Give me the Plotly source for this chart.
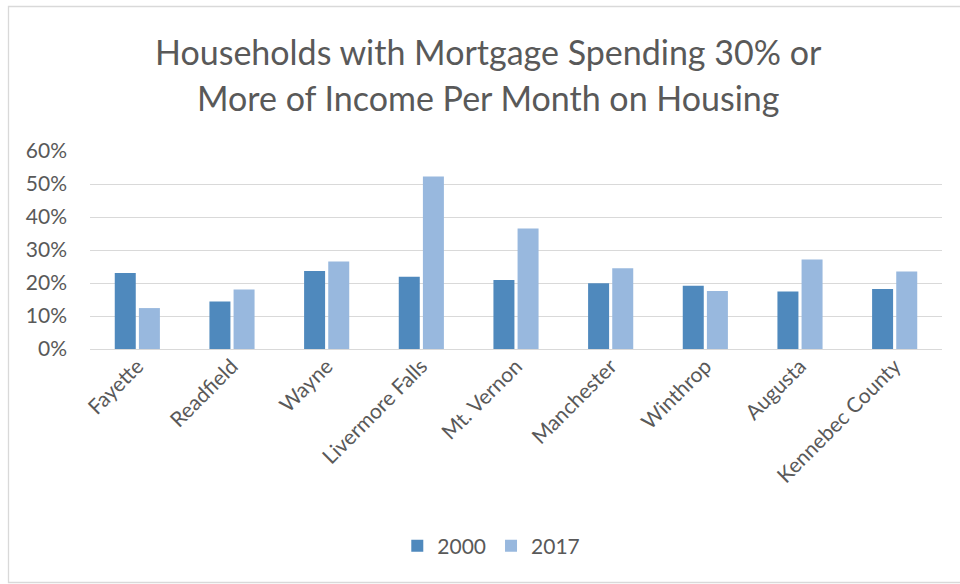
import plotly.graph_objects as go

categories = ["Fayette", "Readfield", "Wayne", "Livermore Falls", "Mt. Vernon",
              "Manchester", "Winthrop", "Augusta", "Kennebec County"]
values_2000 = [0.230, 0.144, 0.236, 0.219, 0.209, 0.199, 0.192, 0.174, 0.182]
values_2017 = [0.124, 0.180, 0.265, 0.523, 0.365, 0.245, 0.176, 0.271, 0.235]
series_names = ["2000", "2017"]
title_lines = ["Households with Mortgage Spending 30% or",
               "More of Income Per Month on Housing"]
y_ticks = [0, 0.1, 0.2, 0.3, 0.4, 0.5, 0.6]

TEXT = "#595959"
FONT = "Lato"

fig = go.Figure()
fig.add_trace(go.Bar(x=categories, y=values_2000, name=series_names[0],
                     marker=dict(color="#4F89BD", line=dict(width=0))))
fig.add_trace(go.Bar(x=categories, y=values_2017, name=series_names[1],
                     marker=dict(color="#98B8DE", line=dict(width=0))))

fig.update_layout(
    width=960, height=584,
    margin=dict(l=90, r=18, t=151, b=235),
    paper_bgcolor="white", plot_bgcolor="white",
    barmode="group", bargap=0.49, bargroupgap=0.13,
    font=dict(family=FONT, color=TEXT, size=20),
    showlegend=True,
    legend=dict(orientation="h", x=0.471, xanchor="center", y=-0.995, yanchor="middle",
                font=dict(size=21, color=TEXT), itemsizing="constant",
                traceorder="normal"),
    xaxis=dict(showgrid=False, showline=False, ticks="", tickangle=-45,
               tickfont=dict(size=21, color=TEXT), zeroline=False),
    yaxis=dict(range=[0, 0.6], tickvals=y_ticks, tickformat=".0%",
               showgrid=True, gridcolor="#D9D9D9", gridwidth=1.3,
               zeroline=True, zerolinecolor="#D9D9D9", zerolinewidth=1.3,
               showline=False, ticks="", ticklabelstandoff=22,
               tickfont=dict(size=21, color=TEXT)),
)

# Title lines
fig.add_annotation(text=title_lines[0], xref="paper", yref="paper",
                   x=0.468, y=(349 - 51) / 198, xanchor="center", yanchor="middle",
                   showarrow=False, font=dict(size=34, color=TEXT, family=FONT))
fig.add_annotation(text=title_lines[1], xref="paper", yref="paper",
                   x=0.468, y=(349 - 98) / 198, xanchor="center", yanchor="middle",
                   showarrow=False, font=dict(size=34, color=TEXT, family=FONT))

# Chart border
fig.add_shape(type="rect", xref="paper", yref="paper",
              x0=(8.5 - 90) / 852, x1=(965 - 90) / 852,
              y0=(349 - 582.5) / 198, y1=(349 - 6.5) / 198,
              line=dict(color="#D9D9D9", width=1.3), fillcolor="rgba(0,0,0,0)",
              layer="below")

fig.write_html("out.html", config={"displayModeBar": False},
               post_script="document.body.style.margin='0';document.body.style.padding='0';")
